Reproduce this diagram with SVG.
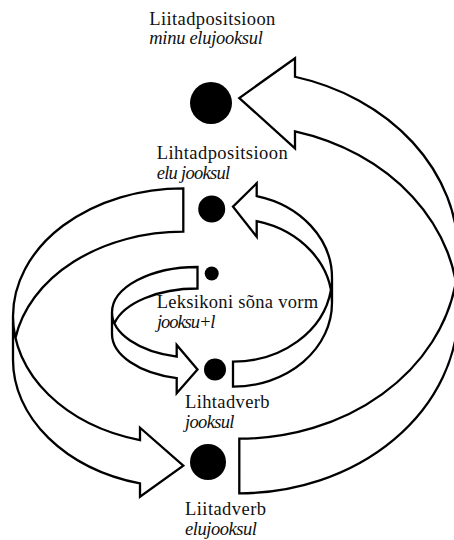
<svg xmlns="http://www.w3.org/2000/svg" width="454" height="540" viewBox="0 0 454 540">
<style>
.arrow{fill:none;stroke:#000;stroke-width:2.3;stroke-linejoin:miter;stroke-miterlimit:10}
.dot{fill:#000}
.t{font-family:"Liberation Serif","Times New Roman",serif;font-size:18.5px;fill:#111}
.i{font-style:italic}
</style>
<rect width="454" height="540" fill="#fff"/>
<g id="connectors">
<path id="arrow-liitadverb-to-liitadpositsioon" class="arrow" d="M458.3,309.3 A219,184 0 0 0 295,131.35 L295,148.3 L239.3,98 L295,58.3 L295,76.75 A219,184 0 0 1 458.3,254.7 L458.3,309.3 A219,184 0 0 1 239.3,493.3 L239.3,438.7 A219,184 0 0 0 455.9,282"/>
<path id="arrow-lihtadverb-to-lihtadpositsioon" class="arrow" d="M332,302.7 A99,84 0 0 0 256.7,221.14 L256.7,236.7 L233,206.7 L256.7,183.3 L256.7,196.14 A99,84 0 0 1 332,277.7 L332,302.7 A99,84 0 0 1 233,386.7 L233,361.7 A99,84 0 0 0 330.9,290.2"/>
<path id="arrow-lihtadpositsioon-to-liitadverb" class="arrow" d="M13,316.3 A170.3,128 0 0 0 140,440.09 L140,427.7 L183.3,465.7 L140,496.7 L140,483.49 A170.3,128 0 0 1 13,359.7 L13,316.3 A170.3,128 0 0 1 183.3,188.3 L183.3,231.7 A170.3,128 0 0 0 15.47,338"/>
<path id="arrow-leksikon-to-lihtadverb" class="arrow" d="M112,312.5 A85.5,45.5 0 0 0 176.7,356.63 L176.7,345 L197.5,369.5 L176.7,393.3 L176.7,378.13 A85.5,45.5 0 0 1 112,334 L112,312.5 A85.5,45.5 0 0 1 197.5,267 L197.5,288.5 A85.5,45.5 0 0 0 114.42,323.25"/>
</g>
<g id="liitadpositsioon">
<text class="t" x="149.3" y="25" textLength="126" lengthAdjust="spacing">Liitadpositsioon</text>
<text class="t i" x="149.3" y="44.3" textLength="113.5" lengthAdjust="spacing">minu elujooksul</text>
<circle class="dot" cx="211" cy="103" r="21"/>
</g>
<g id="lihtadpositsioon">
<text class="t" x="156.7" y="159" textLength="131" lengthAdjust="spacing">Lihtadpositsioon</text>
<text class="t i" x="156.7" y="179.3" textLength="73.5" lengthAdjust="spacing">elu jooksul</text>
<circle class="dot" cx="211.7" cy="209" r="13.5"/>
</g>
<g id="leksikoni-sona-vorm">
<circle class="dot" cx="211.7" cy="273.5" r="7"/>
<text class="t" x="156.7" y="308.3" textLength="161.5" lengthAdjust="spacing">Leksikoni sõna vorm</text>
<text class="t i" x="157" y="328.3" textLength="58.5" lengthAdjust="spacing">jooksu+l</text>
</g>
<g id="lihtadverb">
<circle class="dot" cx="215" cy="369.5" r="11"/>
<text class="t" x="185" y="408.3" textLength="84.5" lengthAdjust="spacing">Lihtadverb</text>
<text class="t i" x="185" y="428.3" textLength="49.5" lengthAdjust="spacing">jooksul</text>
</g>
<g id="liitadverb">
<circle class="dot" cx="208" cy="462" r="18"/>
<text class="t" x="185" y="515" textLength="81" lengthAdjust="spacing">Liitadverb</text>
<text class="t i" x="185" y="535" textLength="72" lengthAdjust="spacing">elujooksul</text>
</g>
</svg>
